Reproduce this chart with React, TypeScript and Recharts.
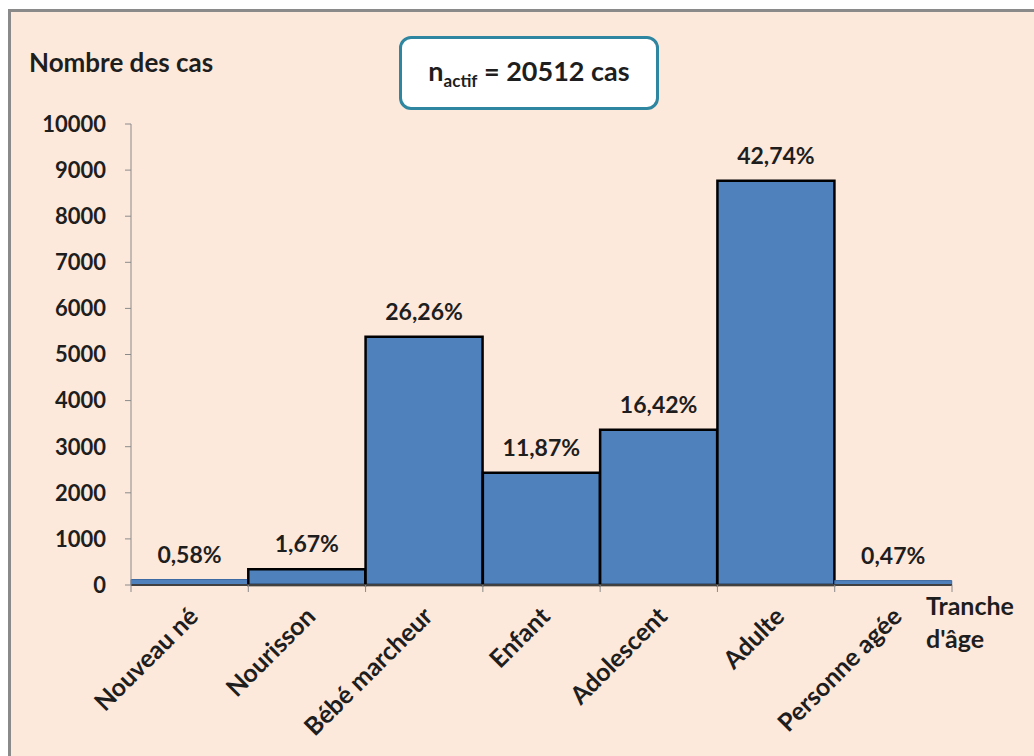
import { BarChart, Bar, XAxis, YAxis, LabelList, Cell } from "recharts";

const categories = [
  "Nouveau né",
  "Nourisson",
  "Bébé marcheur",
  "Enfant",
  "Adolescent",
  "Adulte",
  "Personne agée",
];
const counts = [119, 343, 5386, 2435, 3368, 8767, 96];
const percents = ["0,58%", "1,67%", "26,26%", "11,87%", "16,42%", "42,74%", "0,47%"];
const yTicks = [0, 1000, 2000, 3000, 4000, 5000, 6000, 7000, 8000, 9000, 10000];

const data = categories.map((name, i) => ({
  name,
  count: counts[i],
  pct: percents[i],
}));

const FONT = "Lato, 'Open Sans', sans-serif";
const INK = "#1e1e1e";
const GRID = "#8a8a8a";

// tick marks sit on the category boundaries, labels under the centre
function CategoryTick(props: any) {
  const { x, y, payload, index, visibleTicksCount } = props;
  const half = payload.offset ?? 0;
  const ax = x + 10;
  const ay = y + 33;
  const last = index === visibleTicksCount - 1;
  return (
    <g>
      <line x1={x - half} y1={y} x2={x - half} y2={y + 7} stroke={GRID} />
      {last && <line x1={x + half} y1={y} x2={x + half} y2={y + 7} stroke={GRID} />}
      <text
        x={ax}
        y={ay}
        textAnchor="end"
        transform={`rotate(-45, ${ax}, ${ay})`}
        fontFamily={FONT}
        fontWeight={700}
        fontSize={25}
        fill={INK}
      >
        {payload.value}
      </text>
    </g>
  );
}

export default function App() {
  return (
    <div
      style={{
        position: "absolute",
        left: 0,
        top: 0,
        width: 1034,
        height: 756,
        background: "#ffffff",
        overflow: "hidden",
        fontFamily: FONT,
      }}
    >
      <div
        style={{
          position: "absolute",
          left: 8,
          top: 9,
          width: 1040,
          height: 760,
          borderLeft: "3px solid #8a8a8a",
          borderTop: "3px solid #8a8a8a",
          background: "#fde9db",
        }}
      />
      <div
        style={{
          position: "absolute",
          left: 29,
          top: 46,
          fontWeight: 700,
          fontSize: 26,
          color: INK,
          whiteSpace: "nowrap",
        }}
      >
        Nombre des cas
      </div>
      <div
        style={{
          position: "absolute",
          left: 399,
          top: 36,
          width: 254,
          height: 68,
          border: "3px solid #2e86a0",
          borderRadius: 12,
          background: "#ffffff",
          display: "flex",
          alignItems: "center",
          justifyContent: "center",
          fontSize: 27,
          fontWeight: 700,
          color: INK,
          whiteSpace: "nowrap",
        }}
      >
        <span>
          n<sub style={{ fontSize: 17 }}>actif</sub> = 20512 cas
        </span>
      </div>
      <div
        style={{
          position: "absolute",
          left: 926,
          top: 589,
          fontWeight: 700,
          fontSize: 25,
          lineHeight: "33px",
          color: INK,
          whiteSpace: "nowrap",
        }}
      >
        Tranche
        <br />
        d'âge
      </div>
      <div style={{ position: "absolute", left: 0, top: 0 }}>
        <BarChart
          width={1034}
          height={756}
          data={data}
          barCategoryGap={0}
          margin={{ top: 124, right: 82, bottom: 0, left: 71 }}
        >
          <XAxis
            dataKey="name"
            interval={0}
            tickSize={0}
            tickMargin={0}
            tickLine={false}
            axisLine={{ stroke: "#404040", strokeWidth: 2 }}
            tick={<CategoryTick />}
            height={171}
          />
          <YAxis
            domain={[0, 10000]}
            ticks={yTicks}
            interval={0}
            width={60}
            tickSize={6}
            tickMargin={19}
            axisLine={{ stroke: GRID }}
            tickLine={{ stroke: GRID }}
            tick={{ fontFamily: FONT, fontWeight: 700, fontSize: 22, fill: INK }}
          />
          <Bar
            dataKey="count"
            fill="#4f81bd"
            stroke="#000000"
            strokeWidth={2.5}
            isAnimationActive={false}
          >
            {data.map((d) => (
              <Cell
                key={d.name}
                stroke={d.count < 200 ? "#3d6aa3" : "#000000"}
                strokeWidth={d.count < 200 ? 1 : 2.5}
              />
            ))}
            <LabelList
              dataKey="pct"
              position="top"
              offset={17}
              fontFamily={FONT}
              fontWeight={700}
              fontSize={23}
              fill={INK}
            />
          </Bar>
        </BarChart>
      </div>
    </div>
  );
}
